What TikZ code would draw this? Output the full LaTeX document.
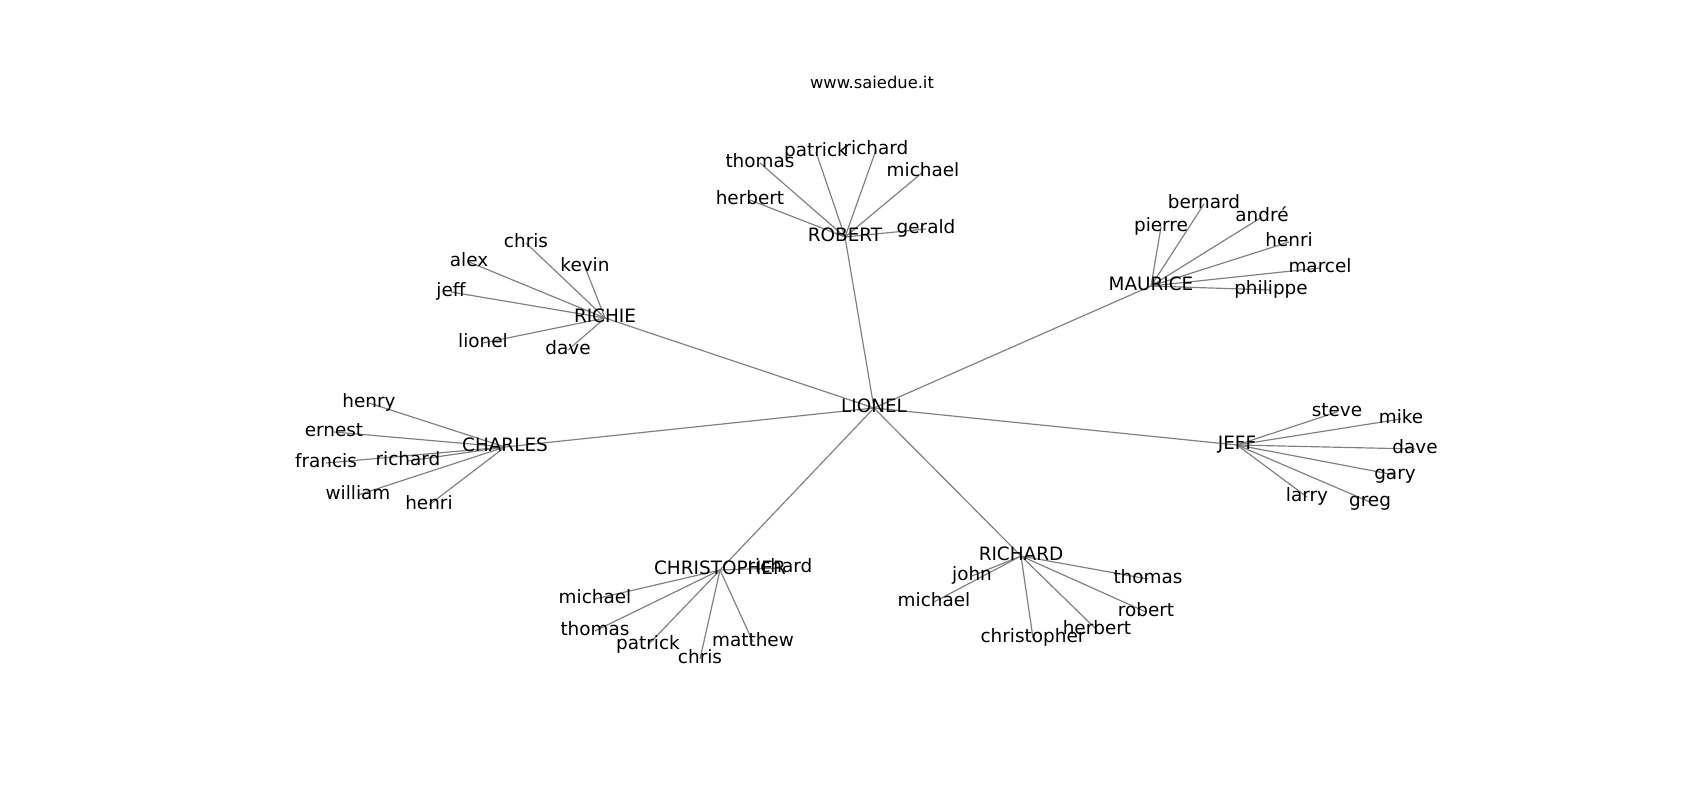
\documentclass[tikz,border=0pt]{standalone}
\usepackage{fontspec}
\setmainfont{DejaVu Sans}
\usetikzlibrary{backgrounds}

\begin{document}
\begin{tikzpicture}[x=0.01in,y=-0.01in,
  person/.style={inner sep=0pt,yshift=-0.02in,text height=0.85em,text depth=0.15em,font=\fontsize{13.3}{16}\selectfont},
  link/.style={draw=gray,line width=0.85pt}]
\useasboundingbox (0,0) rectangle (1700,800);
\node[inner sep=0pt,font=\fontsize{11.8}{14}\selectfont] (title) at (872,82) {www.saiedue.it};

% centre and groups
\node[person] (lionel) at (874,406) {LIONEL};
\node[person] (robert) at (845,235) {ROBERT};
\node[person] (maurice) at (1151,284) {MAURICE};
\node[person] (richie) at (605,316) {RICHIE};
\node[person] (charles) at (505,445) {CHARLES};
\node[person] (jeff) at (1237,443) {JEFF};
\node[person] (christopher) at (720,568) {CHRISTOPHER};
\node[person] (richard) at (1021,554) {RICHARD};

% ROBERT
\node[person] (rob-thomas) at (760,161) {thomas};
\node[person] (rob-patrick) at (816,150) {patrick};
\node[person] (rob-richard) at (876,148) {richard};
\node[person] (rob-michael) at (923,170) {michael};
\node[person] (rob-herbert) at (750,198) {herbert};
\node[person] (rob-gerald) at (926,227) {gerald};

% MAURICE
\node[person] (mau-bernard) at (1204,202) {bernard};
\node[person] (mau-pierre) at (1161,225) {pierre};
\node[person] (mau-andre) at (1262,215) {andré};
\node[person] (mau-henri) at (1289,240) {henri};
\node[person] (mau-marcel) at (1320,266) {marcel};
\node[person] (mau-philippe) at (1271,288) {philippe};

% RICHIE
\node[person] (ric-chris) at (526,241) {chris};
\node[person] (ric-alex) at (469,260) {alex};
\node[person] (ric-kevin) at (585,265) {kevin};
\node[person] (ric-jeff) at (451,290) {jeff};
\node[person] (ric-lionel) at (483,341) {lionel};
\node[person] (ric-dave) at (568,348) {dave};

% CHARLES
\node[person] (cha-henry) at (369,401) {henry};
\node[person] (cha-ernest) at (334,430) {ernest};
\node[person] (cha-francis) at (326,461) {francis};
\node[person] (cha-richard) at (408,459) {richard};
\node[person] (cha-william) at (358,493) {william};
\node[person] (cha-henri) at (429,503) {henri};

% JEFF
\node[person] (jef-steve) at (1337,410) {steve};
\node[person] (jef-mike) at (1401,417) {mike};
\node[person] (jef-dave) at (1415,447) {dave};
\node[person] (jef-gary) at (1395,473) {gary};
\node[person] (jef-larry) at (1307,495) {larry};
\node[person] (jef-greg) at (1370,500) {greg};

% CHRISTOPHER
\node[person] (chr-richard) at (780,566) {richard};
\node[person] (chr-michael) at (595,597) {michael};
\node[person] (chr-thomas) at (595,629) {thomas};
\node[person] (chr-patrick) at (648,643) {patrick};
\node[person] (chr-chris) at (700,657) {chris};
\node[person] (chr-matthew) at (753,640) {matthew};

% RICHARD
\node[person] (rch-john) at (972,574) {john};
\node[person] (rch-michael) at (934,600) {michael};
\node[person] (rch-thomas) at (1148,577) {thomas};
\node[person] (rch-robert) at (1146,610) {robert};
\node[person] (rch-christopher) at (1033,636) {christopher};
\node[person] (rch-herbert) at (1097,628) {herbert};

\begin{pgfonlayer}{background}
\fill[white] (0,0) rectangle (1700,800);
\draw[link] (lionel.center) -- (robert.center);
\draw[link] (lionel.center) -- (maurice.center);
\draw[link] (lionel.center) -- (richie.center);
\draw[link] (lionel.center) -- (charles.center);
\draw[link] (lionel.center) -- (jeff.center);
\draw[link] (lionel.center) -- (christopher.center);
\draw[link] (lionel.center) -- (richard.center);

\draw[link] (robert.center) -- (rob-thomas.center);
\draw[link] (robert.center) -- (rob-patrick.center);
\draw[link] (robert.center) -- (rob-richard.center);
\draw[link] (robert.center) -- (rob-michael.center);
\draw[link] (robert.center) -- (rob-herbert.center);
\draw[link] (robert.center) -- (rob-gerald.center);

\draw[link] (maurice.center) -- (mau-bernard.center);
\draw[link] (maurice.center) -- (mau-pierre.center);
\draw[link] (maurice.center) -- (mau-andre.center);
\draw[link] (maurice.center) -- (mau-henri.center);
\draw[link] (maurice.center) -- (mau-marcel.center);
\draw[link] (maurice.center) -- (mau-philippe.center);

\draw[link] (richie.center) -- (ric-chris.center);
\draw[link] (richie.center) -- (ric-alex.center);
\draw[link] (richie.center) -- (ric-kevin.center);
\draw[link] (richie.center) -- (ric-jeff.center);
\draw[link] (richie.center) -- (ric-lionel.center);
\draw[link] (richie.center) -- (ric-dave.center);

\draw[link] (charles.center) -- (cha-henry.center);
\draw[link] (charles.center) -- (cha-ernest.center);
\draw[link] (charles.center) -- (cha-francis.center);
\draw[link] (charles.center) -- (cha-richard.center);
\draw[link] (charles.center) -- (cha-william.center);
\draw[link] (charles.center) -- (cha-henri.center);

\draw[link] (jeff.center) -- (jef-steve.center);
\draw[link] (jeff.center) -- (jef-mike.center);
\draw[link] (jeff.center) -- (jef-dave.center);
\draw[link] (jeff.center) -- (jef-gary.center);
\draw[link] (jeff.center) -- (jef-larry.center);
\draw[link] (jeff.center) -- (jef-greg.center);

\draw[link] (christopher.center) -- (chr-richard.center);
\draw[link] (christopher.center) -- (chr-michael.center);
\draw[link] (christopher.center) -- (chr-thomas.center);
\draw[link] (christopher.center) -- (chr-patrick.center);
\draw[link] (christopher.center) -- (chr-chris.center);
\draw[link] (christopher.center) -- (chr-matthew.center);

\draw[link] (richard.center) -- (rch-john.center);
\draw[link] (richard.center) -- (rch-michael.center);
\draw[link] (richard.center) -- (rch-thomas.center);
\draw[link] (richard.center) -- (rch-robert.center);
\draw[link] (richard.center) -- (rch-christopher.center);
\draw[link] (richard.center) -- (rch-herbert.center);
\end{pgfonlayer}
\end{tikzpicture}
\end{document}
